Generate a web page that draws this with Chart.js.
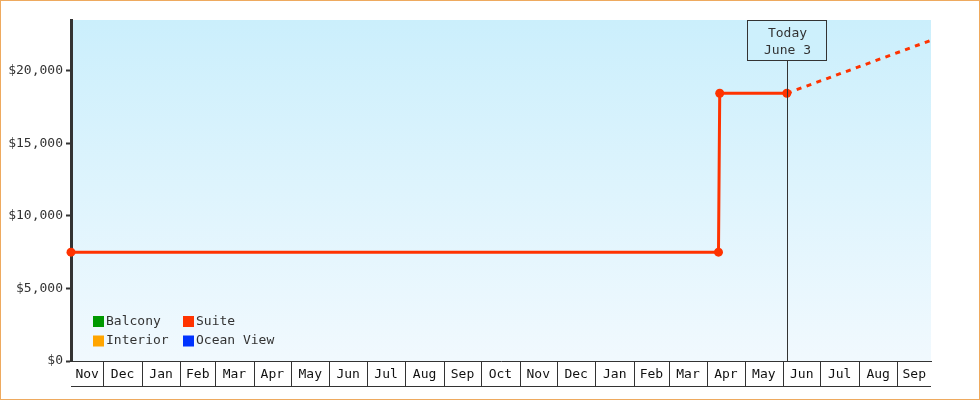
<!DOCTYPE html>
<html>
<head>
<meta charset="utf-8">
<script src="https://cdn.jsdelivr.net/npm/chart.js@4.4.1/dist/chart.umd.min.js"></script>
<style>
    body { margin: 0; background: #fff; }
    #wrap { width: 980px; height: 400px; box-sizing: border-box; border: 1px solid #eeaa5f; position: relative; }
    #wrap canvas { display: block; }
</style>
</head>
<body>
<div id="wrap"><canvas id="price-chart" width="978" height="398"></canvas></div>
<script>
// days counted from Nov 1 of the first year
const month_labels = ['Nov', 'Dec', 'Jan', 'Feb', 'Mar', 'Apr', 'May', 'Jun', 'Jul', 'Aug', 'Sep', 'Oct',
    'Nov', 'Dec', 'Jan', 'Feb', 'Mar', 'Apr', 'May', 'Jun', 'Jul', 'Aug', 'Sep'];
const month_starts = [0, 30, 61, 92, 120, 151, 181, 212, 242, 273, 304, 334,
    365, 395, 426, 457, 485, 516, 546, 577, 607, 638, 669, 699];
const x_min = 4
const x_max = 696

const cabin_names = ['Balcony', 'Interior', 'Suite', 'Ocean View'];
const cabin_colors = ['#009900', '#ffa500', '#ff3300', '#0033ff'];

const suite_days = [4, 525, 526, 580];
const suite_prices = [7500, 7500, 18450, 18450];
const forecast_days = [580, 696];
const forecast_prices = [18450, 22100];

const y_ticks = [0, 5000, 10000, 15000, 20000];
const y_max = 23500
const today_day = 580
const today_text = ['Today', 'June 3'];

const INK = '#333333'
Chart.defaults.font.family = "'DejaVu Sans Mono', monospace"
Chart.defaults.font.size = 13
Chart.defaults.color = INK

const toPoints = (xs, ys) => xs.map((x, i) => ({x: x, y: ys[i]}))

// visible middle of each month cell
const month_mids = month_labels.map((m, i) => {
    const a = Math.max(month_starts[i], x_min)
    const b = Math.min(month_starts[i + 1], x_max)
    return (a + b) / 2
})

const datasets = cabin_names.map((name, i) => ({
    label: name,
    data: name === 'Suite' ? toPoints(suite_days, suite_prices) : [],
    borderColor: cabin_colors[i],
    backgroundColor: cabin_colors[i],
    borderWidth: 3,
    pointRadius: 4.5,
    pointHoverRadius: 4.5,
    pointBorderWidth: 0,
    tension: 0,
    clip: false,
}))
datasets.push({
    label: 'Suite forecast',
    data: toPoints(forecast_days, forecast_prices),
    borderColor: '#ff3300',
    borderWidth: 3,
    borderDash: [5, 5.5],
    pointRadius: 0,
    tension: 0,
})

const bgPlugin = {
    id: 'plot-bg',
    beforeDraw: (chart) => {
        const ctx = chart.ctx
        const {top, left, right, bottom} = chart.chartArea
        const g = ctx.createLinearGradient(0, top, 0, bottom)
        g.addColorStop(0, '#cbeffc')
        g.addColorStop(1, '#f1f9fe')
        ctx.save()
        ctx.fillStyle = g
        ctx.fillRect(left, top, right - left, bottom - top)
        ctx.restore()
    }
}

const monthBoxPlugin = {
    id: 'month-boxes',
    afterDraw: (chart) => {
        const ctx = chart.ctx
        const xs = chart.scales.x
        const {left, right, bottom} = chart.chartArea
        const h = 25
        ctx.save()
        ctx.strokeStyle = INK
        ctx.lineWidth = 1
        ctx.beginPath()
        month_starts.forEach(d => {
            if (d <= x_min || d >= x_max) return
            const px = Math.round(xs.getPixelForValue(d)) + 0.5
            ctx.moveTo(px, bottom)
            ctx.lineTo(px, bottom + h)
        })
        const by = Math.round(bottom + h) + 0.5
        ctx.moveTo(left, by)
        ctx.lineTo(right, by)
        ctx.stroke()
        ctx.restore()
    }
}

const todayPlugin = {
    id: 'today-marker',
    afterDatasetsDraw: (chart) => {
        const ctx = chart.ctx
        const {top, bottom} = chart.chartArea
        const px = Math.round(chart.scales.x.getPixelForValue(today_day)) + 0.5
        const w = 79, h = 40
        ctx.save()
        ctx.strokeStyle = INK
        ctx.lineWidth = 1
        ctx.beginPath()
        ctx.moveTo(px, top + h)
        ctx.lineTo(px, bottom)
        ctx.stroke()
        const bx = Math.round(px - w / 2) - 0.5
        const byy = Math.round(top) + 0.5
        ctx.fillStyle = '#cdf0fc'
        ctx.fillRect(bx, byy, w, h)
        ctx.strokeRect(bx, byy, w, h)
        ctx.fillStyle = INK
        ctx.font = "13px 'DejaVu Sans Mono'"
        ctx.textAlign = 'center'
        ctx.textBaseline = 'middle'
        ctx.fillText(today_text[0], px, top + 13.5)
        ctx.fillText(today_text[1], px, top + 31)
        ctx.restore()
    }
}

const legendPlugin = {
    id: 'inner-legend',
    afterDatasetsDraw: (chart) => {
        const ctx = chart.ctx
        const {left, bottom} = chart.chartArea
        ctx.save()
        ctx.font = "13px 'DejaVu Sans Mono'"
        ctx.textBaseline = 'middle'
        ctx.textAlign = 'left'
        cabin_names.forEach((name, i) => {
            const col = Math.floor(i / 2)
            const row = i % 2
            const sx = left + 22 + col * 90
            const cy = bottom - 39.5 + row * 19.5
            ctx.fillStyle = cabin_colors[i]
            ctx.fillRect(sx, cy - 5.5, 11, 11)
            ctx.fillStyle = INK
            ctx.fillText(name, sx + 13, cy)
        })
        ctx.restore()
    }
}

new Chart(document.getElementById('price-chart'), {
    type: 'line',
    data: {datasets: datasets},
    options: {
        responsive: false,
        animation: false,
        events: [],
        layout: {padding: {left: 0, top: 19, right: 48, bottom: 13}},
        plugins: {
            legend: {display: false},
            tooltip: {enabled: false},
        },
        scales: {
            x: {
                type: 'linear',
                min: x_min,
                max: x_max,
                afterBuildTicks: (scale) => {
                    scale.ticks = month_mids.map(v => ({value: v}))
                },
                afterFit: (scale) => {
                    scale.height = 25
                },
                ticks: {
                    autoSkip: false,
                    maxRotation: 0,
                    padding: 6,
                    color: '#111',
                    callback: (v, i) => month_labels[i],
                },
                grid: {display: false, drawTicks: false},
                border: {display: true, color: INK, width: 1},
            },
            y: {
                min: 0,
                max: y_max,
                afterBuildTicks: (scale) => {
                    scale.ticks = y_ticks.map(v => ({value: v}))
                },
                afterFit: (scale) => {
                    scale.width = 70
                },
                ticks: {
                    padding: 3,
                    callback: (v) => '$' + v.toLocaleString('en-US'),
                },
                grid: {drawOnChartArea: false, tickLength: 5, tickWidth: 2, tickColor: INK, color: INK},
                border: {display: true, color: INK, width: 3},
            }
        }
    },
    plugins: [bgPlugin, monthBoxPlugin, todayPlugin, legendPlugin]
})
</script>
</body>
</html>
